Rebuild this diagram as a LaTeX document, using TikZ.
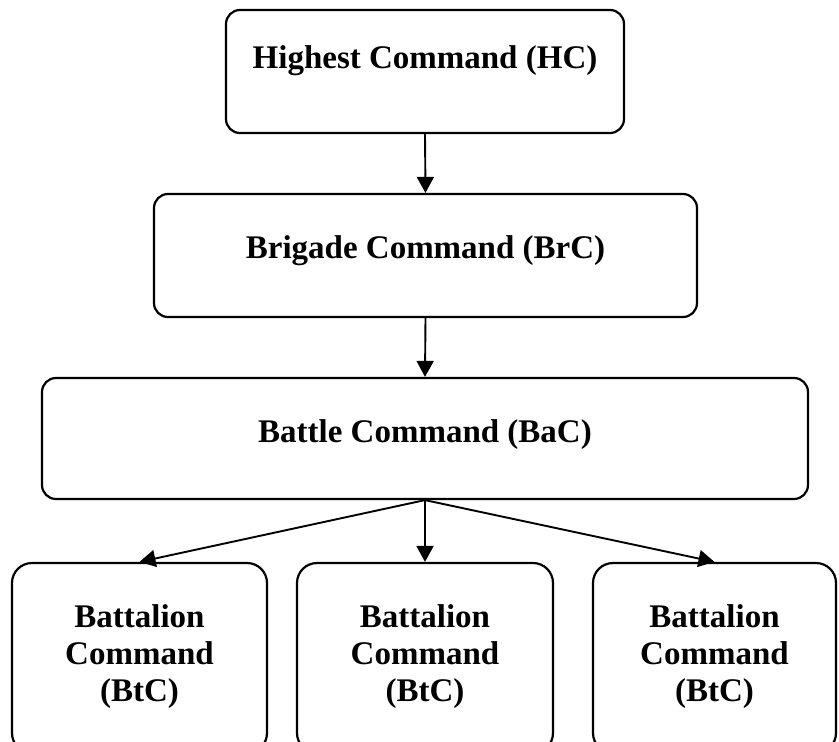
\documentclass[tikz,border=0pt]{standalone}
\usepackage{fontspec}
\setmainfont{Liberation Serif}
\usepackage{tikz}
\usetikzlibrary{
    positioning,
    arrows.meta,
}
\tikzset{
    % Box styles
    cmd box/.style={rectangle, draw, line width=2.2pt, rounded corners=14pt,
                    inner sep=0pt},
    unit box/.style={cmd box, rounded corners=20pt, minimum height=190pt},
    % Text styles
    cmd text/.style={font=\fontsize{33}{37}\selectfont\bfseries, inner sep=0pt},
    % Arrow styles
    arrow/.style={-{Triangle[length=16pt, width=17pt]}, line width=1.9pt},
}

\begin{document}
\begin{tikzpicture}[x=1pt, y=-1pt]
    \clip (0, 0) rectangle (839, 742);

    % Command boxes
    \node[cmd box, minimum width=398pt, minimum height=123pt] (hc) at (425, 71.5) {};
    \node[cmd text, anchor=base] (hcText) at (425, 68) {Highest Command (HC)};

    \node[cmd box, minimum width=543pt, minimum height=123pt] (brc) at (425.5, 255.5) {};
    \node[cmd text, anchor=base] (brcText) at (425.5, 258) {Brigade Command (BrC)};

    \node[cmd box, minimum width=766pt, minimum height=121pt] (bac) at (425, 438.5) {};
    \node[cmd text, anchor=base] (bacText) at (425, 442) {Battle Command (BaC)};

    % Battalion boxes
    \foreach \x/\w/\n in {139.5/255/1, 425/256/2, 714.5/243/3} {
        \node[unit box, minimum width=\w pt] (btc\n) at (\x, 658) {};
        \node[cmd text, anchor=north, align=center] (btcText\n) at (\x, 604.5)
            {Battalion\\Command\\(BtC)};
    }

    % Arrows
    \draw[arrow] (hc.south) -- (brc.north);
    \draw[arrow] (brc.south) -- (bac.north);
    \foreach \n in {1, 2, 3} {
        \draw[arrow] (bac.south) -- (btc\n.north);
    }
\end{tikzpicture}
\end{document}
